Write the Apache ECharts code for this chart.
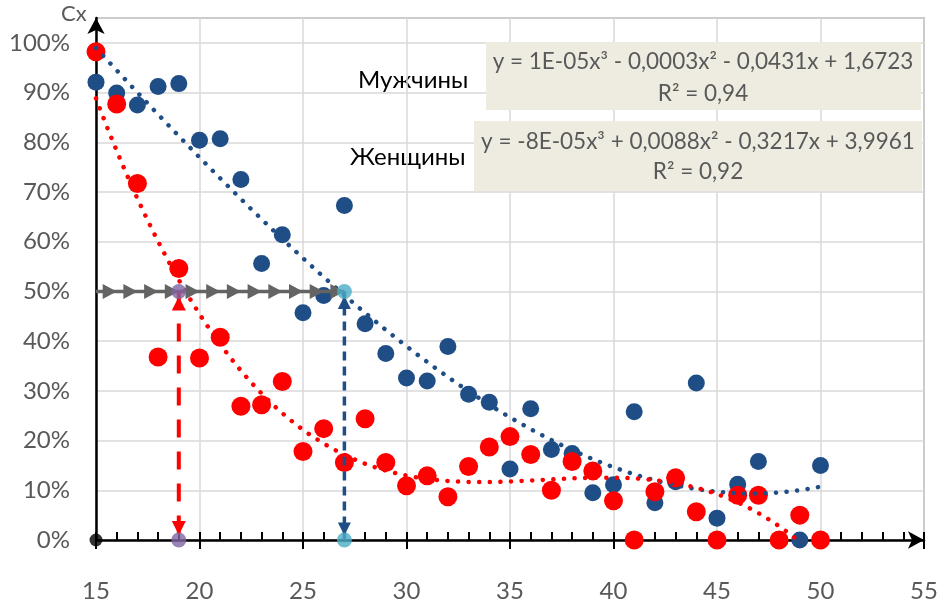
<!DOCTYPE html>
<html><head><meta charset="utf-8">
<script src="https://cdn.jsdelivr.net/npm/echarts@6/dist/echarts.min.js"></script>
<style>html,body{margin:0;padding:0;background:#fff}#c{width:942px;height:603px}</style>
</head><body><div id="c"></div>
<script>
// ---- data ----
const ages = [15,16,17,18,19,20,21,22,23,24,25,26,27,28,29,30,31,32,33,34,35,36,37,38,39,40,41,42,43,44,45,46,47,48,49,50];
const men = [0.921,0.899,0.875,0.912,0.918,0.804,0.807,0.725,0.556,0.614,0.457,0.492,0.673,0.435,0.375,0.326,0.320,0.389,0.293,0.277,0.143,0.264,0.182,0.174,0.095,0.111,0.258,0.075,0.117,0.316,0.044,0.112,0.158,0,0,0.150];
const women = [0.982,0.877,0.717,0.368,0.546,0.366,0.408,0.269,0.272,0.319,0.178,0.224,0.156,0.244,0.156,0.109,0.129,0.087,0.148,0.187,0.208,0.172,0.100,0.158,0.139,0.079,0,0.097,0.125,0.057,0,0.090,0.090,0,0.050,0];
const level = 0.5;              // 50% survival level
const crossWomen = 19;          // age where women's trend hits 50%
const crossMen = 27;            // age where men's trend hits 50%
const xTickLabels = ['15','20','25','30','35','40','45','50','55'];
const yTickLabels = ['0%','10%','20%','30%','40%','50%','60%','70%','80%','90%','100%'];
const labelMen = 'Мужчины';
const labelWomen = 'Женщины';
const eqMen = ['y = 1E-05x³ - 0,0003x² - 0,0431x + 1,6723', 'R² = 0,94'];
const eqWomen = ['y = -8E-05x³ + 0,0088x² - 0,3217x + 3,9961', 'R² = 0,92'];

// ---- cubic least-squares trend (like Excel polynomial trendline) ----
function cubicFit(xs, ys) {
  const pts = [];
  xs.forEach((x, i) => { if (ys[i] != null) pts.push([x, ys[i]]); });
  const n = 4, A = [], b = [];
  for (let r = 0; r < n; r++) { A.push([0,0,0,0]); b.push(0); }
  pts.forEach(([x, y]) => {
    const p = [1, x, x*x, x*x*x];
    for (let r = 0; r < n; r++) { b[r] += p[r]*y; for (let c = 0; c < n; c++) A[r][c] += p[r]*p[c]; }
  });
  for (let i = 0; i < n; i++) {
    let m = i; for (let r = i+1; r < n; r++) if (Math.abs(A[r][i]) > Math.abs(A[m][i])) m = r;
    [A[i], A[m]] = [A[m], A[i]]; [b[i], b[m]] = [b[m], b[i]];
    for (let r = i+1; r < n; r++) { const f = A[r][i]/A[i][i]; for (let c = i; c < n; c++) A[r][c] -= f*A[i][c]; b[r] -= f*b[i]; }
  }
  const co = [0,0,0,0];
  for (let i = n-1; i >= 0; i--) { let s = b[i]; for (let c = i+1; c < n; c++) s -= A[i][c]*co[c]; co[i] = s/A[i][i]; }
  const out = [];
  const x0 = pts[0][0], x1 = pts[pts.length-1][0];
  for (let x = x0; x <= x1 + 1e-9; x += 0.1) out.push([x, co[0]+co[1]*x+co[2]*x*x+co[3]*x*x*x]);
  return out;
}
const menTrend = cubicFit(ages, men);
const womenTrend = cubicFit(ages, women);

const menPts = ages.map((a, i) => [a, men[i]]).filter(p => p[1] != null);
const womenPts = ages.map((a, i) => [a, women[i]]);
const arrowPts = ages.filter(a => a <= crossMen).map(a => ({
  value: [a, level],
  symbol: a === ages[0] ? 'none' : 'triangle'
}));

const FONT = 'Lato, "Open Sans", sans-serif';
const BLUE = '#1f4e86', RED = '#ff0000';

const chart = echarts.init(document.getElementById('c'), null, {renderer: 'canvas'});
chart.setOption({
  animation: false,
  backgroundColor: '#fff',
  grid: {left: 96, right: 18, top: 18, bottom: 62, show: true, borderColor: '#8a8a8a', borderWidth: 1.5, backgroundColor: 'transparent'},
  xAxis: [{
    type: 'value', min: 15, max: 55, interval: 5,
    axisLine: {show: true, onZero: false, lineStyle: {color: '#000', width: 2.5}, symbol: ['none', 'arrow'], symbolSize: [13, 16], symbolOffset: [0, 0]},
    axisTick: {show: true, length: 9, lineStyle: {color: '#000', width: 2}},
    axisLabel: {color: '#595959', fontSize: 24, fontFamily: FONT, margin: 39,
      formatter: v => xTickLabels[Math.round((v - 15) / 5)] ?? ''},
    splitLine: {show: true, lineStyle: {color: '#d9d9d9', width: 1.5}}
  }, {
    type: 'value', min: 15, max: 55, interval: 1, position: 'bottom',
    axisLine: {show: false}, axisLabel: {show: false}, splitLine: {show: false},
    axisTick: {show: true, inside: true, length: 8, lineStyle: {color: '#000', width: 2}}
  }],
  yAxis: {
    type: 'value', min: 0, max: 1.05, interval: 0.1,
    axisLine: {show: true, onZero: false, lineStyle: {color: '#000', width: 2.5}, symbol: ['none', 'arrow'], symbolSize: [13, 16]},
    axisTick: {show: false},
    axisLabel: {color: '#595959', fontSize: 24, fontFamily: FONT, margin: 26, showMaxLabel: false,
      formatter: v => { const i = Math.round(v * 10); return (Math.abs(v*10 - i) < 1e-6 && i <= 10) ? yTickLabels[i] : ''; }},
    splitLine: {show: true, lineStyle: {color: '#d9d9d9', width: 1.5}}
  },
  series: [
    {name: 'men', type: 'scatter', data: menPts, symbolSize: 17, itemStyle: {color: BLUE, opacity: 1}, z: 3},
    {name: 'women', type: 'scatter', data: womenPts, symbolSize: 19, itemStyle: {color: RED, opacity: 1}, z: 4},
    {name: 'menTrend', type: 'line', data: menTrend, showSymbol: false, symbol: 'none', smooth: false,
      lineStyle: {color: BLUE, width: 4.5, type: [0.1, 10.5], cap: 'round'}, z: 5},
    {name: 'womenTrend', type: 'line', data: womenTrend, showSymbol: false, symbol: 'none', smooth: false,
      lineStyle: {color: RED, width: 4.5, type: [0.1, 10.5], cap: 'round'}, z: 5},
    {name: 'arrowLine', type: 'line', data: arrowPts, symbol: 'triangle', symbolSize: [15, 14], symbolRotate: -90,
      symbolOffset: [-7, 0], showAllSymbol: true,
      lineStyle: {color: '#646464', width: 3.5}, itemStyle: {color: '#646464'}, z: 6},
    {name: 'womenDrop', type: 'line', data: [
        {value: [crossWomen, level], symbol: 'triangle', symbolSize: [14, 14], symbolOffset: [0, 12]},
        {value: [crossWomen, 0], symbol: 'triangle', symbolRotate: 180, symbolSize: [14, 14], symbolOffset: [0, -12]}],
      lineStyle: {color: RED, width: 4, type: [18, 14]}, itemStyle: {color: RED}, z: 7},
    {name: 'menDrop', type: 'line', data: [
        {value: [crossMen, level], symbol: 'triangle', symbolSize: [13, 13], symbolOffset: [0, 11]},
        {value: [crossMen, 0], symbol: 'triangle', symbolRotate: 180, symbolSize: [13, 13], symbolOffset: [0, -11]}],
      lineStyle: {color: BLUE, width: 3.5, type: [9, 6]}, itemStyle: {color: BLUE}, z: 7},
    {name: 'womenMarks', type: 'scatter', data: [[crossWomen, level], [crossWomen, 0]], symbolSize: 15, itemStyle: {color: '#8064a2'}, z: 8},
    {name: 'menMarks', type: 'scatter', data: [[crossMen, level], [crossMen, 0]], symbolSize: 15, itemStyle: {color: '#4bacc6'}, z: 8},
    {name: 'origin', type: 'scatter', data: [[ages[0], 0]], symbolSize: 13, itemStyle: {color: '#000'}, z: 8}
  ],
  graphic: [
    {type: 'text', left: 61, top: 3, style: {text: 'Cx', fill: '#595959', font: '22px ' + FONT}},
    {type: 'text', left: 358, top: 68, style: {text: labelMen, fill: '#000', font: '24px ' + FONT}},
    {type: 'text', left: 350, top: 145, style: {text: labelWomen, fill: '#000', font: '24px ' + FONT}},
    {type: 'rect', shape: {x: 486, y: 42, width: 435, height: 68}, style: {fill: '#eeece1'}, z: 10},
    {type: 'text', x: 703, y: 62, z: 11, style: {text: eqMen[0], fill: '#595959', font: '22.5px ' + FONT, align: 'center', verticalAlign: 'middle'}},
    {type: 'text', x: 703, y: 94, z: 11, style: {text: eqMen[1], fill: '#595959', font: '22.5px ' + FONT, align: 'center', verticalAlign: 'middle'}},
    {type: 'rect', shape: {x: 474, y: 121, width: 448, height: 70}, style: {fill: '#eeece1'}, z: 10},
    {type: 'text', x: 698, y: 142, z: 11, style: {text: eqWomen[0], fill: '#595959', font: '22.5px ' + FONT, align: 'center', verticalAlign: 'middle'}},
    {type: 'text', x: 698, y: 172, z: 11, style: {text: eqWomen[1], fill: '#595959', font: '22.5px ' + FONT, align: 'center', verticalAlign: 'middle'}}
  ]
});
</script></body></html>
